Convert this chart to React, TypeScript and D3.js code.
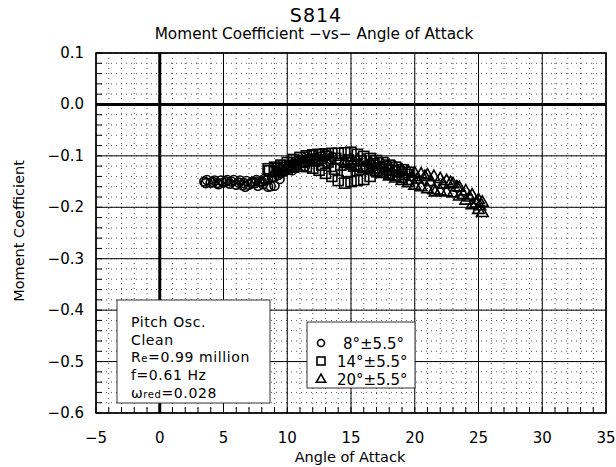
import React from 'react';
import * as d3 from 'd3';

// [angle of attack, moment coefficient]
const circles8: [number, number][] = [
  [3.5, -0.150], [4.0, -0.152], [4.5, -0.153], [5.0, -0.152], [5.5, -0.154], [6.0, -0.156], [6.5, -0.157],
  [7.0, -0.156], [7.5, -0.153], [8.0, -0.150], [8.5, -0.146], [9.0, -0.141], [9.5, -0.133], [10.0, -0.124],
  [10.5, -0.116], [11.0, -0.108], [11.5, -0.102], [12.0, -0.098], [12.5, -0.096], [13.0, -0.097], [13.5, -0.102],
  [13.3, -0.110], [12.8, -0.106], [12.3, -0.107], [11.8, -0.110], [11.3, -0.114], [10.8, -0.118], [10.3, -0.123],
  [9.8, -0.130], [9.3, -0.137], [8.8, -0.143], [8.3, -0.148], [7.8, -0.150], [7.3, -0.150], [6.8, -0.149],
  [6.3, -0.148], [5.8, -0.147], [5.3, -0.147], [4.8, -0.148], [4.3, -0.148], [3.7, -0.147],
  [4.2, -0.151], [5.2, -0.150], [6.2, -0.152], [7.2, -0.153], [8.2, -0.145], [8.7, -0.159], [9.2, -0.130],
  [9.6, -0.125], [10.2, -0.118], [11.2, -0.112], [12.2, -0.104], [12.7, -0.101], [13.2, -0.099], [11.7, -0.105],
  [10.7, -0.110], [9.0, -0.158], [8.5, -0.160], [7.7, -0.158], [6.7, -0.160], [3.6, -0.153], [4.6, -0.155],
  [5.6, -0.150], [6.6, -0.153], [7.6, -0.147], [8.1, -0.155], [9.4, -0.145], [10.4, -0.128], [11.4, -0.120],
  [12.4, -0.112], [13.4, -0.106],
];

const squares14: [number, number][] = [
  [8.5, -0.125], [9.0, -0.122], [9.5, -0.118], [10.0, -0.113], [10.5, -0.107], [11.0, -0.103], [11.5, -0.100],
  [12.0, -0.098], [12.5, -0.097], [13.0, -0.096], [13.5, -0.095], [14.0, -0.095], [14.5, -0.094], [15.0, -0.093],
  [15.5, -0.097], [16.0, -0.101], [16.5, -0.105], [17.0, -0.109], [17.5, -0.113], [18.0, -0.118], [18.5, -0.122],
  [19.0, -0.127], [19.5, -0.132],
  [19.5, -0.146], [19.0, -0.142], [18.5, -0.138], [18.0, -0.135], [17.5, -0.132], [17.0, -0.131], [16.5, -0.140],
  [16.0, -0.146], [15.5, -0.148], [15.0, -0.150], [14.5, -0.153], [14.0, -0.148], [13.5, -0.140], [13.0, -0.134],
  [12.5, -0.128], [12.0, -0.124], [11.5, -0.121], [11.0, -0.120], [10.5, -0.122], [10.0, -0.126], [9.5, -0.129],
  [9.0, -0.131], [8.6, -0.129],
  [9.2, -0.125], [10.2, -0.119], [11.2, -0.112], [12.2, -0.108], [13.2, -0.112], [14.2, -0.118], [15.2, -0.120],
  [16.2, -0.121], [17.2, -0.123], [18.2, -0.128], [19.2, -0.136], [9.7, -0.122], [10.7, -0.116], [11.7, -0.110],
  [12.7, -0.118], [13.7, -0.126], [14.7, -0.131], [15.7, -0.126], [16.7, -0.118], [17.7, -0.121], [18.7, -0.131],
  [13.8, -0.105], [14.8, -0.108], [15.8, -0.110], [16.8, -0.115], [17.8, -0.126],
];

const triangles20: [number, number][] = [
  [14.5, -0.110], [15.0, -0.108], [15.5, -0.108], [16.0, -0.110], [16.5, -0.112], [17.0, -0.115], [17.5, -0.117],
  [18.0, -0.120], [18.5, -0.123], [19.0, -0.127], [19.5, -0.130], [20.0, -0.133], [20.5, -0.135], [21.0, -0.137],
  [21.5, -0.140], [22.0, -0.144], [22.5, -0.148], [23.0, -0.154], [23.5, -0.161], [24.0, -0.168], [24.5, -0.176],
  [25.0, -0.185], [25.3, -0.190],
  [25.3, -0.210], [25.0, -0.204], [24.5, -0.195], [24.0, -0.186], [23.5, -0.178], [23.0, -0.172], [22.5, -0.170],
  [22.0, -0.168], [21.5, -0.166], [21.0, -0.164], [20.5, -0.160], [20.0, -0.157], [19.5, -0.152], [19.0, -0.148],
  [18.5, -0.143], [18.0, -0.139], [17.5, -0.134], [17.0, -0.130], [16.5, -0.127], [16.0, -0.124], [15.5, -0.121],
  [15.0, -0.118], [14.6, -0.115],
  [20.2, -0.145], [21.2, -0.150], [22.2, -0.155], [22.8, -0.152], [23.3, -0.160], [23.8, -0.175], [24.3, -0.180],
  [24.8, -0.192], [25.1, -0.197], [21.6, -0.170], [20.8, -0.140], [19.8, -0.140],
];

const seriesLabels = ['8°±5.5°', '14°±5.5°', '20°±5.5°'];
const xTicks = [-5, 0, 5, 10, 15, 20, 25, 30, 35];
const yTicks = [0.1, 0.0, -0.1, -0.2, -0.3, -0.4, -0.5, -0.6];
const infoLines = ['Pitch Osc.', 'Clean'];

const W = 616;
const H = 467;
const left = 96, right = 606, top = 53, bottom = 413;
const font = "'DejaVu Sans', sans-serif";

const x = d3.scaleLinear().domain([-5, 35]).range([left, right]);
const y = d3.scaleLinear().domain([-0.6, 0.1]).range([bottom, top]);

const minorX = d3.range(-5, 35.001, 1);
const minorY = d3.range(-0.6, 0.1001, 0.02);

const fmt = (v: number) => (v < 0 ? '\u2212' : '') + Math.abs(v).toFixed(1);

const triPath = (s: number) => `M0,${-s * 0.62}L${s * 0.58},${s * 0.4}L${-s * 0.58},${s * 0.4}Z`;

const Marker = ({ kind, size, fill = 'none' }: { kind: number; size: number; fill?: string }) => {
  if (kind === 0) return <circle r={size / 2} fill={fill} stroke="black" strokeWidth={1.6} />;
  if (kind === 1)
    return <rect x={-size / 2} y={-size / 2} width={size} height={size} fill={fill} stroke="black" strokeWidth={1.6} />;
  return <path d={triPath(size)} fill={fill} stroke="black" strokeWidth={1.6} />;
};

export default function App() {
  const series = [circles8, squares14, triangles20];
  return (
    <svg width={W} height={H} style={{ position: 'absolute', left: 0, top: 0, background: 'white' }} fontFamily={font}>
      <rect width={W} height={H} fill="white" />
      <text x={316} y={22} textAnchor="middle" fontSize={19} letterSpacing={1}>S814</text>
      <text x={314} y={39} textAnchor="middle" fontSize={15.3}>Moment Coefficient −vs− Angle of Attack</text>

      {/* dotted minor grid */}
      <g stroke="#555" strokeWidth={1} strokeDasharray="1,4">
        {minorX.map((v, i) => (
          <line key={'mx' + i} x1={x(v)} x2={x(v)} y1={top} y2={bottom} />
        ))}
        {minorY.map((v, i) => (
          <line key={'my' + i} x1={left} x2={right} y1={y(v)} y2={y(v)} />
        ))}
      </g>
      {/* major grid */}
      <g stroke="black" strokeWidth={1}>
        {xTicks.map((v) => (
          <line key={'gx' + v} x1={x(v)} x2={x(v)} y1={top} y2={bottom} />
        ))}
        {yTicks.map((v) => (
          <line key={'gy' + v} x1={left} x2={right} y1={y(v)} y2={y(v)} />
        ))}
      </g>
      {/* minor ticks */}
      <g stroke="black" strokeWidth={1}>
        {minorX.map((v, i) => (
          <line key={'tx' + i} x1={x(v)} x2={x(v)} y1={bottom} y2={bottom - 6} />
        ))}
        {minorY.map((v, i) => (
          <line key={'ty' + i} x1={left} x2={left + 6} y1={y(v)} y2={y(v)} />
        ))}
      </g>
      <line x1={x(0)} x2={x(0)} y1={top} y2={bottom} stroke="black" strokeWidth={3} />
      <line x1={left} x2={right} y1={y(0)} y2={y(0)} stroke="black" strokeWidth={3} />
      <rect x={left} y={top} width={right - left} height={bottom - top} fill="none" stroke="black" strokeWidth={1.5} />

      {/* data */}
      {series.map((pts, k) => (
        <g key={'s' + k}>
          {pts.map((p, i) => (
            <g key={i} transform={`translate(${x(p[0])},${y(p[1])})`}>
              <Marker kind={k} size={k === 0 ? 9 : 10} />
            </g>
          ))}
        </g>
      ))}

      {/* tick labels */}
      {xTicks.map((v) => (
        <text key={'lx' + v} x={x(v)} y={443} textAnchor="middle" fontSize={15}>
          {v < 0 ? '\u2212' + Math.abs(v) : v}
        </text>
      ))}
      {yTicks.map((v) => (
        <text key={'ly' + v} x={84} y={y(v) + 5} textAnchor="end" fontSize={15}>
          {fmt(v)}
        </text>
      ))}
      <text x={350} y={462} textAnchor="middle" fontSize={14.5}>Angle of Attack</text>
      <text transform="translate(24,231) rotate(-90)" textAnchor="middle" fontSize={14.5}>Moment Coefficient</text>

      {/* info box */}
      <rect x={117} y={300} width={153} height={103} fill="white" stroke="#333" strokeWidth={1} />
      <g fontSize={14} letterSpacing={0.6}>
        {infoLines.map((t, i) => (
          <text key={t} x={131} y={327 + i * 17.5}>{t}</text>
        ))}
        <text x={131} y={362}>R<tspan fontSize={10}>e</tspan>=0.99 million</text>
        <text x={131} y={379.5}>f=0.61 Hz</text>
        <text x={131} y={397.5}>ω<tspan fontSize={10}>red</tspan>=0.028</text>
      </g>

      {/* legend */}
      <rect x={307} y={322} width={108} height={66} fill="white" stroke="#333" strokeWidth={1} />
      {seriesLabels.map((t, i) => (
        <g key={t}>
          <g transform={`translate(321,${343 + i * 18})`}>
            <Marker kind={i} size={i === 0 ? 7 : 8} />
          </g>
          <text x={i === 0 ? 343 : 337} y={349 + i * 18} fontSize={15}>{t}</text>
        </g>
      ))}
    </svg>
  );
}
